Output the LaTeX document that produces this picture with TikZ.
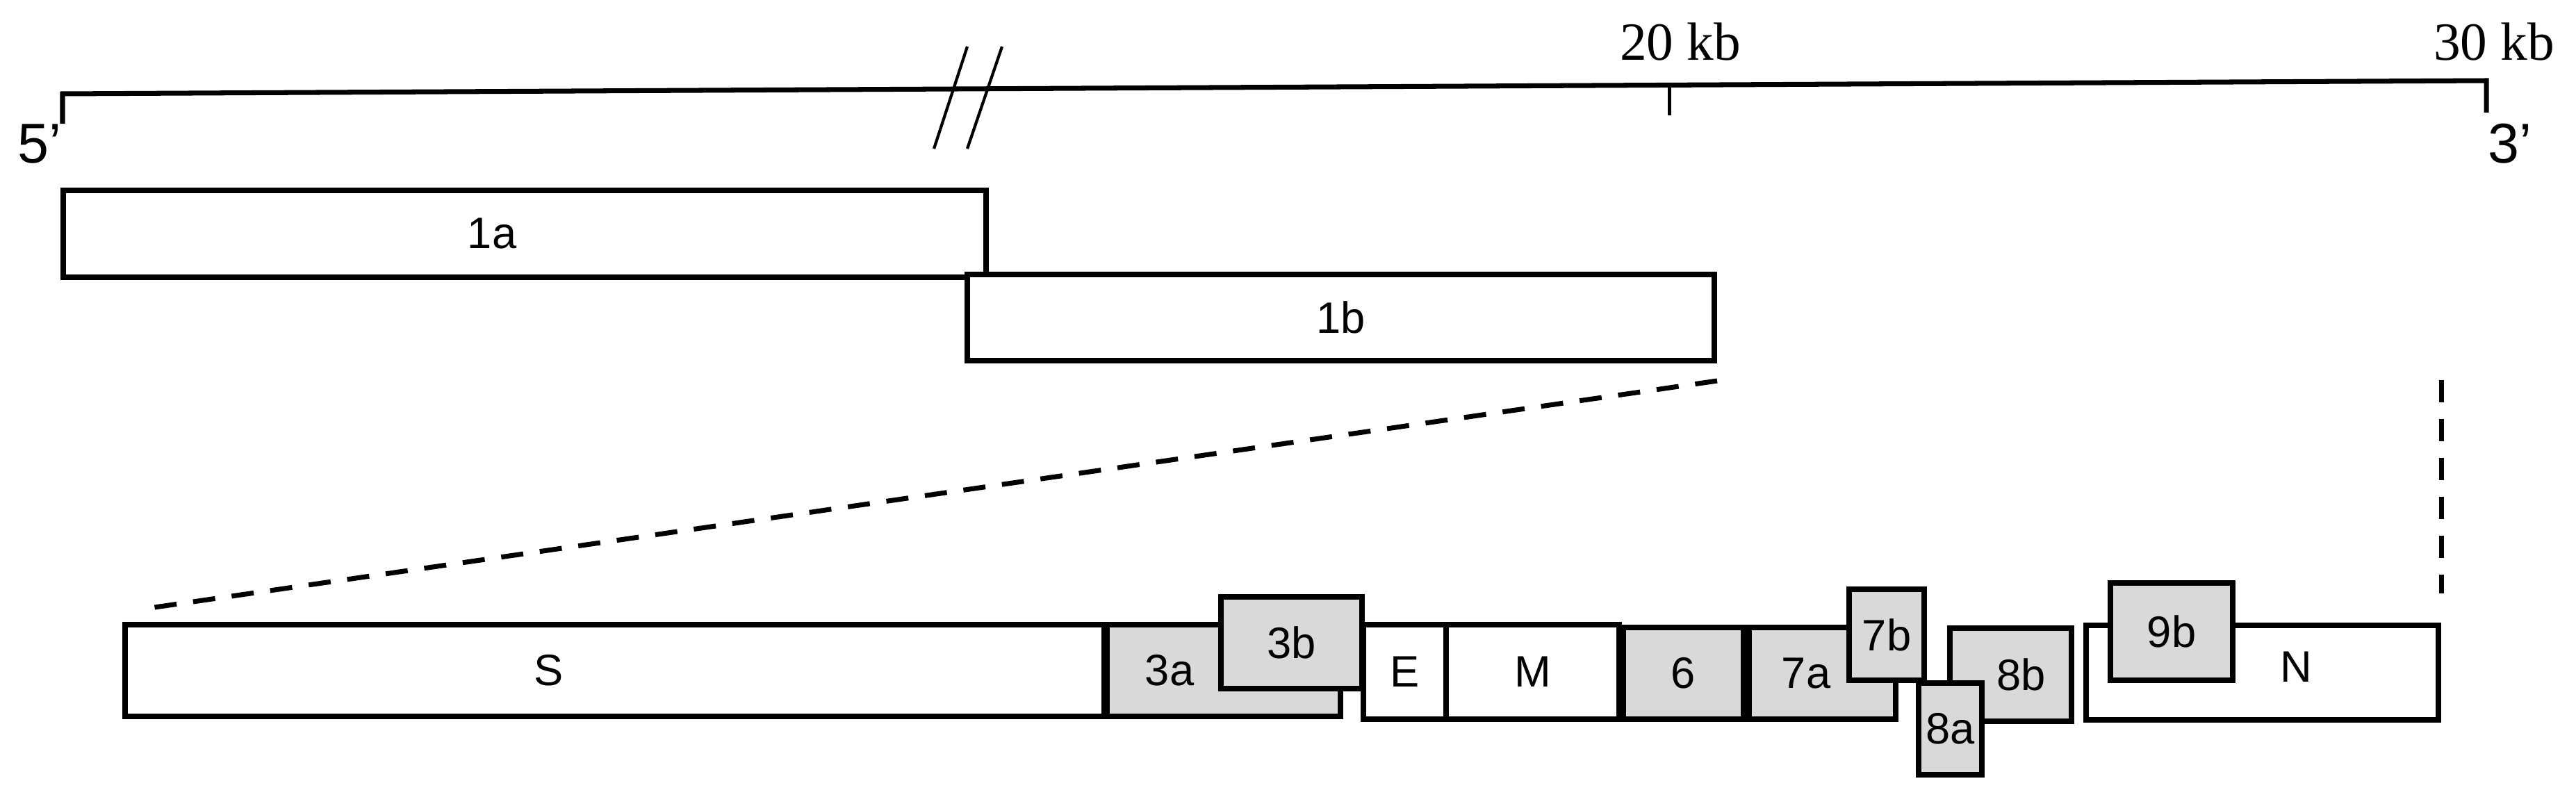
\documentclass[tikz,border=0pt]{standalone}
\usepackage{fontspec}
\setmainfont{Liberation Sans}
\newfontfamily\kbfont{Liberation Serif}
\usetikzlibrary{positioning,calc}
\definecolor{orfgrey}{RGB}{217,217,217}
\newcommand\orffont{\fontsize{18}{20}\selectfont}

\begin{document}
\begin{tikzpicture}[
    gene/.style={rectangle, draw, line width=2.3pt, fill=white, inner sep=0pt, text centered, font=\orffont},
    accessory/.style={gene, fill=orfgrey},
    every label/.style={font=\orffont},
    scaleline/.style={line width=2pt},
    tick/.style={line width=1.4pt},
    breakmark/.style={line width=1.2pt},
    zoomline/.style={line width=2pt, dash pattern=on 0.32cm off 0.24cm},
    endlabel/.style={font=\fontsize{23}{25}\selectfont, anchor=base},
    kblabel/.style={font=\kbfont\fontsize{22}{24}\selectfont, anchor=base}
]
\useasboundingbox (0,0) rectangle (37.07,-11.46);

% genome scale
\coordinate (p5) at (0.90,-1.35);
\coordinate (p3) at (35.78,-1.16);
\draw[scaleline] ([yshift=-0.43cm]p5) -- (p5) -- (p3) -- ([yshift=-0.46cm]p3);
\draw[tick] ($(p5)!0.663!(p3)$) -- ++(0,-0.44);
\draw[breakmark] (13.92,-0.67) -- (13.44,-2.14);
\draw[breakmark] (14.42,-0.67) -- (13.92,-2.14);

\node (five) [endlabel] at (0.57,-2.34) {5’};
\node (three) [endlabel] at (36.12,-2.34) {3’};
\node (kb20) [kblabel] at (24.18,-0.86) {20 kb};
\node (kb30) [kblabel] at (35.89,-0.86) {30 kb};

% replicase
\node (g1a) [gene, minimum width=13.28cm, minimum height=1.25cm, label={[xshift=-0.47cm]center:1a}] at (7.55,-3.365) {};
\node (g1b) [gene, minimum width=10.75cm, minimum height=1.24cm] at (19.295,-4.57) {1b};

% structural and accessory genes
\node (gS) [gene, minimum width=14.09cm, minimum height=1.32cm, label={[xshift=-0.945cm]center:S}] at (8.845,-9.65) {};
\node (g3a) [accessory, minimum width=3.36cm, minimum height=1.32cm, label={[xshift=-0.78cm]center:3a}] at (17.61,-9.65) {};
\node (g3b) [accessory, minimum width=2.03cm, minimum height=1.32cm] at (18.585,-9.25) {3b};
\node (gE) [gene, minimum width=1.19cm, minimum height=1.36cm] at (20.215,-9.67) {E};
\node (gM) [gene, minimum width=2.49cm, minimum height=1.36cm] at (22.055,-9.67) {M};
\node (g6) [accessory, minimum width=1.73cm, minimum height=1.32cm] at (24.225,-9.69) {6};
\node (g7a) [accessory, minimum width=2.11cm, minimum height=1.32cm, label={[xshift=-0.235cm]center:7a}] at (26.225,-9.69) {};
\node (g7b) [accessory, minimum width=1.08cm, minimum height=1.31cm] at (27.15,-9.135) {7b};
\node (g8b) [accessory, minimum width=1.75cm, minimum height=1.34cm, label={[xshift=0.15cm]center:8b}] at (28.935,-9.71) {};
\node (g8a) [accessory, minimum width=0.91cm, minimum height=1.32cm] at (28.065,-10.49) {8a};
\node (gN) [gene, minimum width=5.07cm, minimum height=1.36cm, label={[xshift=0.49cm,yshift=0.08cm]center:N}] at (32.555,-9.68) {};
\node (g9b) [accessory, minimum width=1.76cm, minimum height=1.40cm] at (31.25,-9.09) {9b};

% zoom lines
\draw[zoomline] ([yshift=-0.25cm]g1b.south east) -- ([xshift=0.4cm,yshift=0.2cm]gS.north west);
\draw[zoomline] ([yshift=3.49cm]gN.north east) -- ([yshift=0.42cm]gN.north east);

\end{tikzpicture}
\end{document}
